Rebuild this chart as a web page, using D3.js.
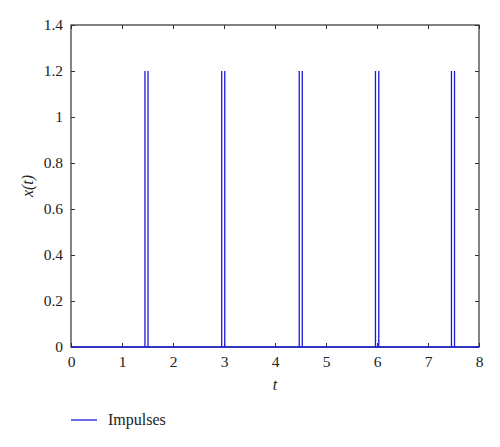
<!DOCTYPE html>
<html>
<head>
<meta charset="utf-8">
<script src="https://cdn.jsdelivr.net/npm/d3@7"></script>
<style>
  body { margin: 0; background: #fff; }
  text { font-family: "Liberation Serif", "DejaVu Serif", serif; fill: #222; }
</style>
</head>
<body>
<div id="canvas"></div>
<script>
// pulse edges (t values), each drawn as a pair of spikes
const pulseStart = [1.45, 2.955, 4.475, 5.97, 7.46];
const pulseEnd = [1.51, 3.015, 4.535, 6.035, 7.52];
const pulseHeight = [1.2, 1.2, 1.2, 1.2, 1.2];
const tRange = [0, 8];
const xTicks = [0, 1, 2, 3, 4, 5, 6, 7, 8];
const yTicks = [0, 0.2, 0.4, 0.6, 0.8, 1, 1.2, 1.4];
const legendLabel = "Impulses";

const W = 500, H = 447;
const m = {left: 71, top: 25, right: 21, bottom: 100};
const iw = W - m.left - m.right, ih = H - m.top - m.bottom;

let svg = d3.select("#canvas")
  .append("svg")
    .attr("width", W)
    .attr("height", H);

let x = d3.scaleLinear().domain(tRange).range([0, iw]);
let y = d3.scaleLinear().domain([0, 1.4]).range([ih, 0]);

let g = svg.append("g").attr("transform", `translate(${m.left},${m.top})`);

let spikes = [];
pulseStart.forEach((s, i) => {
  spikes.push({t: s, v: pulseHeight[i]}, {t: pulseEnd[i], v: pulseHeight[i]});
});

// axes, ticks pointing inward on all four sides
function styleAxis(sel) {
  sel.select(".domain").remove();
  sel.selectAll("line").attr("stroke", "#333");
  sel.selectAll("text").attr("font-size", 15.5);
}

g.append("g")
  .attr("transform", `translate(0,${ih})`)
  .call(d3.axisBottom(x).tickValues(xTicks).tickSize(-4).tickPadding(9).tickFormat(d3.format("d")))
  .call(styleAxis);
g.append("g")
  .call(d3.axisTop(x).tickValues(xTicks).tickSize(-4).tickFormat(""))
  .call(styleAxis);
g.append("g")
  .call(d3.axisLeft(y).tickValues(yTicks).tickSize(-4).tickPadding(8).tickFormat(d => d3.format("")(+d.toFixed(1))))
  .call(styleAxis);
g.append("g")
  .attr("transform", `translate(${iw},0)`)
  .call(d3.axisRight(y).tickValues(yTicks).tickSize(-4).tickFormat(""))
  .call(styleAxis);

g.append("rect")
  .attr("width", iw)
  .attr("height", ih)
  .attr("fill", "none")
  .attr("stroke", "#333")
  .attr("stroke-width", 1.2);

// baseline of the signal
g.append("line")
  .attr("x1", x(tRange[0])).attr("x2", x(tRange[1]))
  .attr("y1", y(0)).attr("y2", y(0))
  .attr("stroke", "#1a1ad6")
  .attr("stroke-width", 1.3);

g.selectAll("line.spike")
  .data(spikes)
  .enter()
  .append("line")
  .attr("class", "spike")
  .attr("x1", d => x(d.t)).attr("x2", d => x(d.t))
  .attr("y1", y(0)).attr("y2", d => y(d.v))
  .attr("stroke", "#1a1ad6")
  .attr("stroke-width", 1.3);

// axis titles
svg.append("text")
  .attr("x", m.left + iw / 2)
  .attr("y", m.top + ih + 43)
  .attr("text-anchor", "middle")
  .attr("font-size", 16)
  .attr("font-style", "italic")
  .text("t");

svg.append("text")
  .attr("transform", `translate(33,${m.top + ih / 2}) rotate(-90)`)
  .attr("text-anchor", "middle")
  .attr("font-size", 16)
  .attr("font-style", "italic")
  .text("x(t)");

// legend
svg.append("line")
  .attr("x1", 71).attr("x2", 97)
  .attr("y1", 420).attr("y2", 420)
  .attr("stroke", "#1a1ad6")
  .attr("stroke-width", 1.3);
svg.append("text")
  .attr("x", 108)
  .attr("y", 425)
  .attr("font-size", 16)
  .text(legendLabel);
</script>
</body>
</html>
